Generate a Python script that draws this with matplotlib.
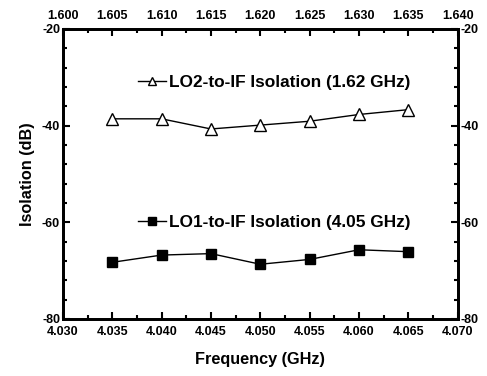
import matplotlib.pyplot as plt
from matplotlib.ticker import MultipleLocator

plt.rcParams['font.family'] = 'Liberation Sans'
plt.rcParams['font.weight'] = 'bold'
plt.rcParams['axes.unicode_minus'] = False

# LO1 on the bottom axis (GHz), LO2 on the top axis (GHz)
lo1_freq = [4.035, 4.040, 4.045, 4.050, 4.055, 4.060, 4.065]
lo1_iso = [-68.3, -66.8, -66.5, -68.7, -67.7, -65.7, -66.1]
lo2_freq = [1.605, 1.610, 1.615, 1.620, 1.625, 1.630, 1.635]
lo2_iso = [-38.6, -38.6, -40.7, -39.9, -39.1, -37.7, -36.7]

fig = plt.figure(figsize=[4.87, 3.76], dpi=100)
ax = fig.add_axes([0.129, 0.152, 0.811, 0.771])
ax2 = ax.twiny()

l1, = ax.plot(lo1_freq, lo1_iso, color='black', lw=1, marker='s', ms=7,
              mfc='black', mec='black', label='LO1-to-IF Isolation (4.05 GHz)')
l2, = ax2.plot(lo2_freq, lo2_iso, color='black', lw=1, marker='^', ms=8,
               mfc='white', mec='black', label='LO2-to-IF Isolation (1.62 GHz)')

ax.set_xlim(4.030, 4.070)
ax2.set_xlim(1.600, 1.640)
ax.set_ylim(-80, -20)

ax.xaxis.set_major_locator(MultipleLocator(0.005))
ax.xaxis.set_minor_locator(MultipleLocator(0.0025))
ax2.xaxis.set_major_locator(MultipleLocator(0.005))
ax2.xaxis.set_minor_locator(MultipleLocator(0.0025))
ax.yaxis.set_major_locator(MultipleLocator(20))
ax.yaxis.set_minor_locator(MultipleLocator(4))
ax.xaxis.set_major_formatter(plt.FormatStrFormatter('%.3f'))
ax2.xaxis.set_major_formatter(plt.FormatStrFormatter('%.3f'))

for a in (ax, ax2):
    for s in a.spines.values():
        s.set_linewidth(2)
    a.tick_params(which='both', direction='in', width=1.5, labelsize=9, pad=5)
    a.tick_params(which='major', length=5)
    a.tick_params(which='minor', length=3)
ax.tick_params(axis='y', which='both', left=True, right=True, labelleft=True, labelright=True, pad=2)

ax.set_xlabel('Frequency (GHz)', fontsize=11.7, fontweight='bold', labelpad=10)
ax.set_ylabel('Isolation (dB)', fontsize=11.7, fontweight='bold', labelpad=5)

leg2 = ax2.legend(handles=[l2], loc='center left', bbox_to_anchor=(0.19, 0.817),
                  frameon=False, handlelength=1.63, handletextpad=0.15,
                  borderpad=0, borderaxespad=0,
                  prop={'weight': 'bold', 'size': 12.4})
leg1 = ax.legend(handles=[l1], loc='center left', bbox_to_anchor=(0.19, 0.334),
                 frameon=False, handlelength=1.63, handletextpad=0.15,
                 borderpad=0, borderaxespad=0,
                 prop={'weight': 'bold', 'size': 12.4})
for leg in (leg1, leg2):
    leg.legend_handles[0].set_markersize(5.5)

fig.savefig('out.png', dpi=100)
